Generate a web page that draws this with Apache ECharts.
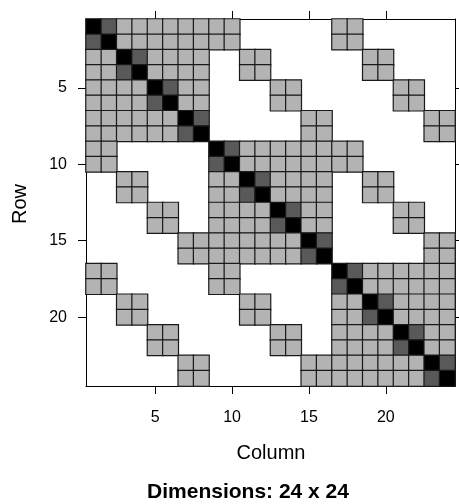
<!DOCTYPE html>
<html>
<head>
<meta charset="utf-8">
<script src="https://cdn.jsdelivr.net/npm/echarts@6/dist/echarts.min.js"></script>
<style>
html,body{margin:0;padding:0;background:#fff;}
#chart{width:459px;height:504px;}
</style>
</head>
<body>
<div id="chart"></div>
<script>
// Matrix entries: 0 = empty, 1 = light grey, 2 = dark grey, 3 = black
var matrixRows = [
  [3,2,1,1,1,1,1,1, 1,1,0,0,0,0,0,0, 1,1,0,0,0,0,0,0],
  [2,3,1,1,1,1,1,1, 1,1,0,0,0,0,0,0, 1,1,0,0,0,0,0,0],
  [1,1,3,2,1,1,1,1, 0,0,1,1,0,0,0,0, 0,0,1,1,0,0,0,0],
  [1,1,2,3,1,1,1,1, 0,0,1,1,0,0,0,0, 0,0,1,1,0,0,0,0],
  [1,1,1,1,3,2,1,1, 0,0,0,0,1,1,0,0, 0,0,0,0,1,1,0,0],
  [1,1,1,1,2,3,1,1, 0,0,0,0,1,1,0,0, 0,0,0,0,1,1,0,0],
  [1,1,1,1,1,1,3,2, 0,0,0,0,0,0,1,1, 0,0,0,0,0,0,1,1],
  [1,1,1,1,1,1,2,3, 0,0,0,0,0,0,1,1, 0,0,0,0,0,0,1,1],
  [1,1,0,0,0,0,0,0, 3,2,1,1,1,1,1,1, 1,1,0,0,0,0,0,0],
  [1,1,0,0,0,0,0,0, 2,3,1,1,1,1,1,1, 1,1,0,0,0,0,0,0],
  [0,0,1,1,0,0,0,0, 1,1,3,2,1,1,1,1, 0,0,1,1,0,0,0,0],
  [0,0,1,1,0,0,0,0, 1,1,2,3,1,1,1,1, 0,0,1,1,0,0,0,0],
  [0,0,0,0,1,1,0,0, 1,1,1,1,3,2,1,1, 0,0,0,0,1,1,0,0],
  [0,0,0,0,1,1,0,0, 1,1,1,1,2,3,1,1, 0,0,0,0,1,1,0,0],
  [0,0,0,0,0,0,1,1, 1,1,1,1,1,1,3,2, 0,0,0,0,0,0,1,1],
  [0,0,0,0,0,0,1,1, 1,1,1,1,1,1,2,3, 0,0,0,0,0,0,1,1],
  [1,1,0,0,0,0,0,0, 1,1,0,0,0,0,0,0, 3,2,1,1,1,1,1,1],
  [1,1,0,0,0,0,0,0, 1,1,0,0,0,0,0,0, 2,3,1,1,1,1,1,1],
  [0,0,1,1,0,0,0,0, 0,0,1,1,0,0,0,0, 1,1,3,2,1,1,1,1],
  [0,0,1,1,0,0,0,0, 0,0,1,1,0,0,0,0, 1,1,2,3,1,1,1,1],
  [0,0,0,0,1,1,0,0, 0,0,0,0,1,1,0,0, 1,1,1,1,3,2,1,1],
  [0,0,0,0,1,1,0,0, 0,0,0,0,1,1,0,0, 1,1,1,1,2,3,1,1],
  [0,0,0,0,0,0,1,1, 0,0,0,0,0,0,1,1, 1,1,1,1,1,1,3,2],
  [0,0,0,0,0,0,1,1, 0,0,0,0,0,0,1,1, 1,1,1,1,1,1,2,3]
];
var columnLabels = ['1','2','3','4','5','6','7','8','9','10','11','12','13','14','15','16','17','18','19','20','21','22','23','24'];
var rowLabels = ['1','2','3','4','5','6','7','8','9','10','11','12','13','14','15','16','17','18','19','20','21','22','23','24'];
var tickValues = ['5','10','15','20'];
var levelColors = {1:'#b3b3b3', 2:'#595959', 3:'#000000'};
var titleText = 'Dimensions: 24 x 24';
var xTitle = 'Column';
var yTitle = 'Row';

var cells = [];
matrixRows.forEach(function(row, r){
  row.forEach(function(v, c){
    if (v !== 0) cells.push({value:[c, r, v], itemStyle:{color: levelColors[v]}});
  });
});

var FONT = '"Liberation Sans", Arial, sans-serif';
function isTick(idx, val){ return tickValues.indexOf(String(val)) >= 0; }

var axisCommon = {
  type:'category',
  boundaryGap:true,
  axisLine:{show:true, lineStyle:{color:'#000', width:1}},
  axisTick:{show:true, alignWithLabel:true, interval:isTick, length:8, lineStyle:{color:'#000', width:1}},
  splitLine:{show:false}
};

var chart = echarts.init(document.getElementById('chart'), null, {renderer:'canvas'});
chart.setOption({
  animation:false,
  backgroundColor:'#fff',
  grid:{left:86, top:19, right:4, bottom:118, containLabel:false},
  xAxis:[
    Object.assign({}, axisCommon, {position:'bottom', data:columnLabels,
      axisLabel:{show:true, interval:isTick, margin:24, color:'#000', fontSize:16, fontFamily:FONT}}),
    Object.assign({}, axisCommon, {position:'top', data:columnLabels,
      axisLabel:{show:false}})
  ],
  yAxis:[
    Object.assign({}, axisCommon, {position:'left', inverse:true, data:rowLabels,
      axisLabel:{show:true, interval:isTick, margin:19, color:'#000', fontSize:16, fontFamily:FONT}}),
    Object.assign({}, axisCommon, {position:'right', inverse:true, data:rowLabels,
      axisLabel:{show:false}})
  ],
  series:[{
    type:'heatmap',
    xAxisIndex:0, yAxisIndex:0,
    data:cells,
    itemStyle:{borderColor:'#1a1a1a', borderWidth:1.2},
    emphasis:{disabled:true},
    label:{show:false}
  }],
  graphic:[
    {type:'text', x:271, y:453, style:{text:xTitle, fill:'#000', font:'20px ' + FONT, textAlign:'center', textVerticalAlign:'middle'}},
    {type:'text', x:20, y:204, rotation:Math.PI/2, style:{text:yTitle, fill:'#000', font:'20px ' + FONT, textAlign:'center', textVerticalAlign:'middle'}},
    {type:'text', x:248, y:492, style:{text:titleText, fill:'#000', font:'bold 21px ' + FONT, textAlign:'center', textVerticalAlign:'middle'}}
  ]
});
</script>
</body>
</html>
